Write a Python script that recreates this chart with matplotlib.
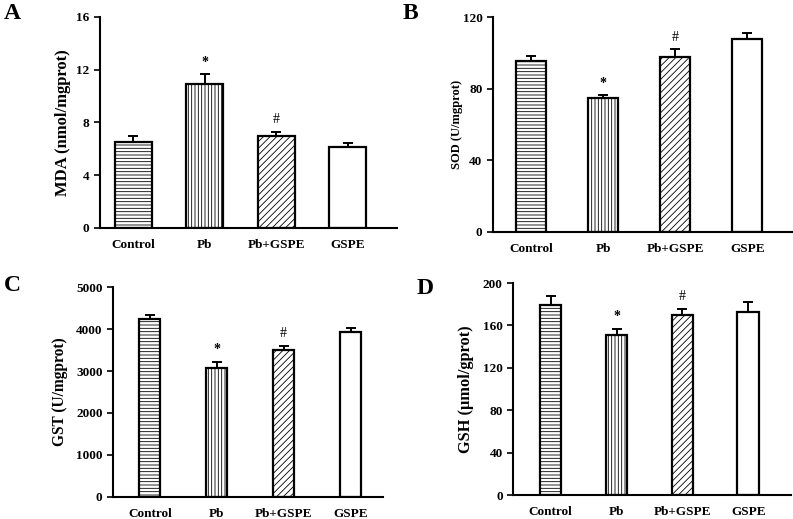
import matplotlib.pyplot as plt

plt.rcParams["font.family"] = ["Liberation Serif", "DejaVu Serif"]
plt.rcParams["font.weight"] = "bold"
plt.rcParams["hatch.linewidth"] = 0.6

groups = ["Control", "Pb", "Pb+GSPE", "GSPE"]
hatches = ["-----", "|||||", "/////", ""]

mda = [6.5, 10.9, 7.0, 6.1]
mda_err = [0.5, 0.75, 0.3, 0.3]
sod = [95.6, 75.0, 98.0, 107.9]
sod_err = [2.6, 1.3, 4.0, 3.4]
gst = [4240, 3070, 3497, 3932]
gst_err = [90, 150, 110, 100]
gsh = [179.6, 150.7, 169.5, 172.4]
gsh_err = [8.2, 6.3, 6.3, 9.6]

marks = ["", "*", "#", ""]

panels = [
    ("A", mda, mda_err, "MDA (nmol/mgprot)", 16, 4),
    ("B", sod, sod_err, "SOD (U/mgprot)", 120, 40),
    ("C", gst, gst_err, "GST (U/mgprot)", 5000, 1000),
    ("D", gsh, gsh_err, "GSH (μmol/gprot)", 200, 40),
]

# axes rectangles and layout tweaks (from the reference picture)
rects = [
    [0.126, 0.561, 0.3745, 0.4066],
    [0.6217, 0.553, 0.377, 0.414],
    [0.1425, 0.0424, 0.340, 0.4046],
    [0.647, 0.0462, 0.3506, 0.4085],
]
xlims = [(-0.47, 3.69), (-0.53, 3.62), (-0.55, 3.48), (-0.57, 3.65)]
widths = [0.52, 0.42, 0.31, 0.33]
letter_pos = [(0.005, 0.995), (0.508, 0.995), (0.005, 0.47), (0.525, 0.465)]
ylabel_gap = [29, 30, 45, 39]
ylabel_size = [12, 9, 11.2, 11.8]

fig = plt.figure(figsize=(7.93, 5.19), dpi=100)

for i, (letter, vals, errs, ylab, ymax, step) in enumerate(panels):
    ax = fig.add_axes(rects[i])
    x = list(range(len(groups)))
    ax.bar(x, vals, width=widths[i], color="white", edgecolor="black",
           linewidth=1.6, hatch=hatches, zorder=2)
    ax.errorbar(x, vals, yerr=[[0] * 4, errs], fmt="none", ecolor="black",
                elinewidth=1.4, capsize=3.5, capthick=1.4, zorder=1)
    for xi, v, e, m in zip(x, vals, errs, marks):
        if m:
            ax.annotate(m, (xi, v + e), xytext=(0, 4), textcoords="offset points",
                        ha="center", va="bottom", fontsize=10,
                        fontweight="bold" if m == "*" else "normal")
    ax.set_xlim(*xlims[i])
    ax.set_ylim(0, ymax)
    ax.set_yticks(range(0, ymax + 1, step))
    ax.set_xticks(x)
    ax.set_xticklabels(groups)
    ax.tick_params(axis="x", length=0, pad=8, labelsize=9.5)
    ax.tick_params(axis="y", direction="out", length=4, width=1.2, labelsize=9.5)
    for s in ["top", "right"]:
        ax.spines[s].set_visible(False)
    for s in ["left", "bottom"]:
        ax.spines[s].set_linewidth(1.5)
    ax.set_ylabel(ylab, fontsize=ylabel_size[i], fontweight="bold")
    ax.yaxis.set_label_coords(-ylabel_gap[i] / (rects[i][2] * 793), 0.5)
    fig.text(letter_pos[i][0], letter_pos[i][1], letter, fontsize=17,
             fontweight="bold", ha="left", va="top")

fig.savefig("out.png", dpi=100)
